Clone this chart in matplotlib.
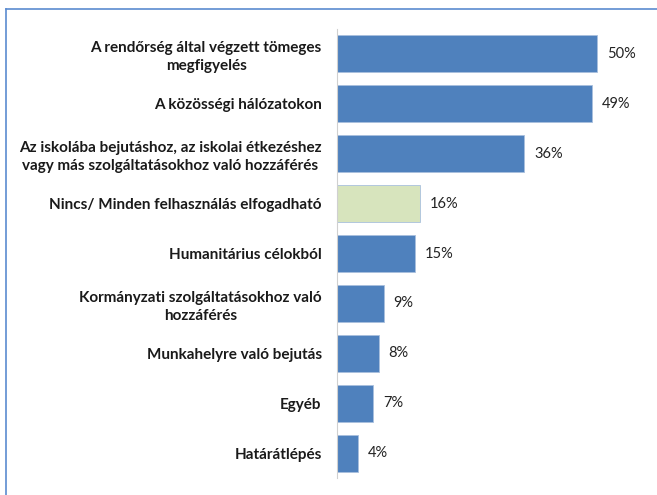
import matplotlib.pyplot as plt

categories = [
    "A rendőrség által végzett tömeges\nmegfigyelés",
    "A közösségi hálózatokon",
    "Az iskolába bejutáshoz, az iskolai étkezéshez\nvagy más szolgáltatásokhoz való hozzáférés",
    "Nincs/ Minden felhasználás elfogadható",
    "Humanitárius célokból",
    "Kormányzati szolgáltatásokhoz való\nhozzáférés",
    "Munkahelyre való bejutás",
    "Egyéb",
    "Határátlépés",
]
values = [50, 49, 36, 16, 15, 9, 8, 7, 4]
highlight = "Nincs/ Minden felhasználás elfogadható"

blue = '#4F81BD'
green = '#D7E4BD'
colors = [green if c == highlight else blue for c in categories]

plt.rcParams['font.family'] = ['Lato', 'DejaVu Sans']

fig = plt.figure(figsize=(6.57, 4.95), dpi=100)
ax = fig.add_axes([337/657, 1-478/495, 312/657, 449/495])

pos = list(range(len(categories)))
ax.barh(pos, values, height=0.74, color=colors, edgecolor='#a9c0de', linewidth=0.6)
ax.set_ylim(len(categories)-0.5, -0.5)
ax.set_xlim(0, 60)

ax.set_yticks(pos)
ax.set_yticklabels(categories, fontsize=11, fontweight='bold', color='#1a1a1a',
                   ha='right', multialignment='center', linespacing=1.35)
ax.tick_params(axis='y', length=0, pad=11)
ax.set_xticks([])

for s in ['top', 'right', 'bottom']:
    ax.spines[s].set_visible(False)
ax.spines['left'].set_color('#d0d0d0')
ax.spines['left'].set_linewidth(0.8)

for p, v in zip(pos, values):
    ax.text(v + 1.9, p, f"{v}%", va='center', ha='left', fontsize=10.5, color='#222222')

# blue frame (top and left visible)
fig.add_artist(plt.Line2D([6/657, 1], [1-9/495, 1-9/495], color='#5B8BD0', lw=1.2))
fig.add_artist(plt.Line2D([6/657, 6/657], [0, 1-9/495], color='#5B8BD0', lw=1.2))

fig.savefig('out.png', dpi=100)
